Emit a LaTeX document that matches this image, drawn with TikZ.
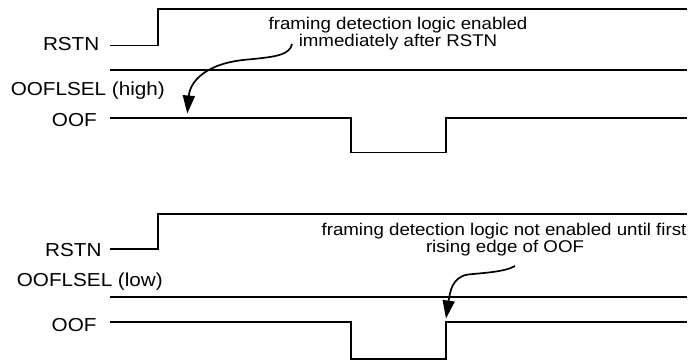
\documentclass[tikz,border=0pt]{standalone}
\usepackage{fontspec}
\setmainfont{Liberation Sans}[FakeStretch=1.1]
\usetikzlibrary{arrows.meta}
\begin{document}
\begin{tikzpicture}[x=1pt,y=-1pt,
  wave/.style={line width=1.7pt,line join=miter},
  siglabel/.style={anchor=base east,inner sep=0pt,font=\fontsize{18.8}{20}\selectfont},
  note/.style={anchor=base,inner sep=0pt,font=\fontsize{17}{18}\selectfont},
  pointer/.style={line width=1.7pt,-{Triangle[length=18pt,width=12pt]}}]
\useasboundingbox[fill=white] (0,0) rectangle (692,361);

% ---- upper trace set: OOFLSEL high ----
\node[siglabel] (rstnA) at (99.5,50.7) {RSTN};
\node[siglabel] (selA)  at (165,95)    {OOFLSEL (high)};
\node[siglabel] (oofA)  at (97,126.7)  {OOF};

\draw[wave] (110,45.5) -- (158.3,45.5) -- (158.3,9) -- (687,9);
\draw[wave] (110,70.3) -- (687,70.3);
\draw[wave] (110,118) -- (350.7,118) -- (350.7,152.5) -- (446,152.5)
            -- (446,118) -- (687,118);

\node[note] (noteA1) at (398,29.5) {framing detection logic enabled};
\node[note] (noteA2) at (398,46.7) {immediately after RSTN};
\coordinate (fromA) at (292,44);
\coordinate (toA)   at (187.3,113.5);
\draw[pointer] (fromA) .. controls (290,55) and (275,57) .. (248,59.5)
               .. controls (205,63) and (190,82) .. (toA);

% ---- lower trace set: OOFLSEL low ----
\node[siglabel] (rstnB) at (101.7,256)   {RSTN};
\node[siglabel] (selB)  at (163,286.7)   {OOFLSEL (low)};
\node[siglabel] (oofB)  at (96.7,331.7)  {OOF};

\draw[wave] (110,249) -- (158.3,249) -- (158.3,214.3) -- (687,214.3);
\draw[wave] (110,296.7) -- (687,296.7);
\draw[wave] (110,321.7) -- (350.7,321.7) -- (350.7,359) -- (446,359)
            -- (446,321.7) -- (687,321.7);

\node[note] (noteB1) at (504,235)   {framing detection logic not enabled until first};
\node[note] (noteB2) at (505,252.3) {rising edge of OOF};
\coordinate (fromB) at (515,266);
\coordinate (toB)   at (446,318.5);
\draw[pointer] (fromB) .. controls (505,272) and (482,273) .. (468,274.5)
               .. controls (452,277) and (450,292) .. (toB);
\end{tikzpicture}
\end{document}
